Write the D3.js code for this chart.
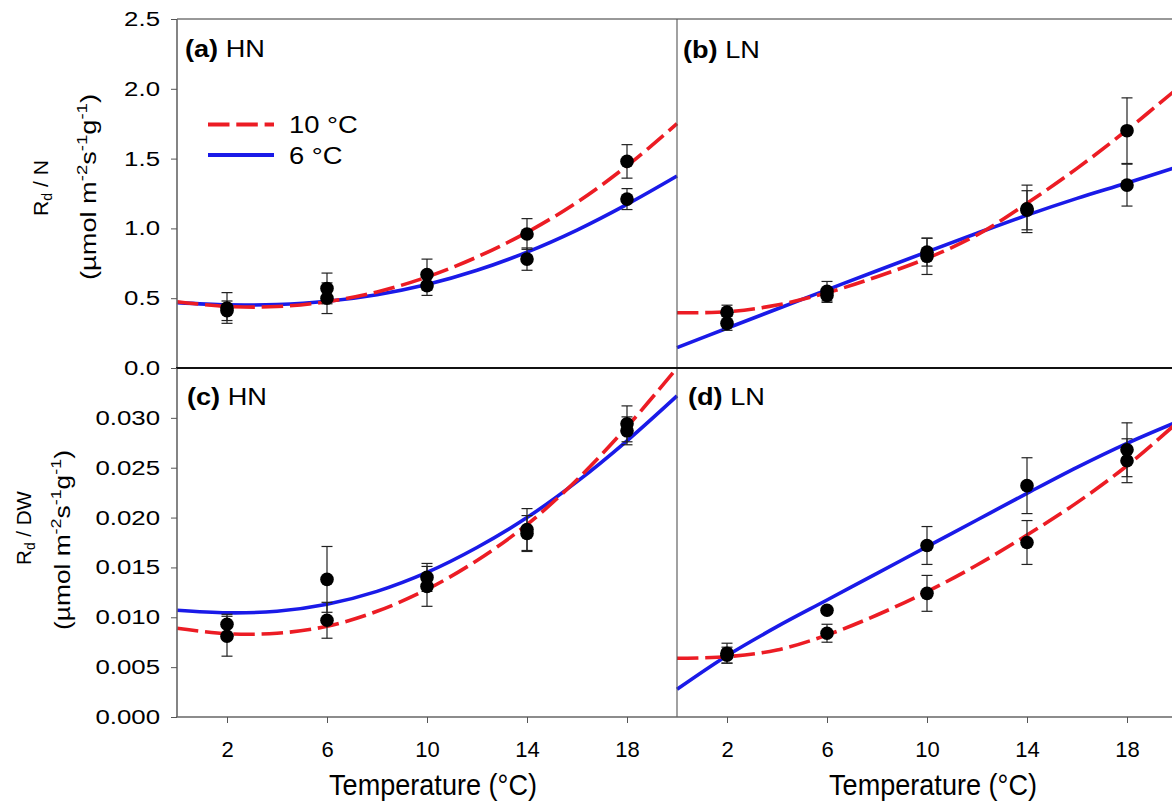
<!DOCTYPE html>
<html>
<head>
<meta charset="utf-8">
<script src="https://cdn.jsdelivr.net/npm/d3@7"></script>
<style>
  body { margin: 0; background: #fff; }
  svg { display: block; }
  text { font-family: 'Liberation Sans', Arial, sans-serif; fill: #000; }
</style>
</head>
<body>
<svg id="chart" width="1172" height="809"></svg>
<script>
// Growth temperatures where respiration was measured
const temps = [2, 6, 10, 14, 18];
// Temperatures at which the fitted curves are tabulated
const fitT = [0, 2, 4, 6, 8, 10, 12, 14, 16, 18, 20];

// (a) HN, Rd per N
const aMean10 = [0.43, 0.57, 0.67, 0.96, 1.48];
const aErr10  = [0.11, 0.11, 0.11, 0.11, 0.12];
const aMean6  = [0.41, 0.50, 0.59, 0.78, 1.21];
const aErr6   = [0.07, 0.11, 0.07, 0.08, 0.075];
const aFit10  = [0.475, 0.441, 0.440, 0.475, 0.545, 0.652, 0.795, 0.972, 1.187, 1.448, 1.75];
const aFit6   = [0.468, 0.452, 0.455, 0.478, 0.525, 0.598, 0.700, 0.830, 0.988, 1.172, 1.375];

// (b) LN, Rd per N
const bMean10 = [0.40, 0.52, 0.80, 1.14, 1.70];
const bErr10  = [0.05, 0.05, 0.13, 0.17, 0.235];
const bMean6  = [0.32, 0.55, 0.83, 1.13, 1.31];
const bErr6   = [0.05, 0.07, 0.10, 0.14, 0.15];
const bFit10  = [0.396, 0.403, 0.451, 0.539, 0.654, 0.786, 0.953, 1.180, 1.430, 1.705, 2.00];
const bFit6   = [0.146, 0.285, 0.423, 0.560, 0.697, 0.832, 0.965, 1.095, 1.215, 1.325, 1.44];

// (c) HN, Rd per DW
const cMean10 = [0.0081, 0.0097, 0.0131, 0.0188, 0.0294];
const cErr10  = [0.0020, 0.0018, 0.0020, 0.0021, 0.0018];
const cMean6  = [0.0093, 0.0138, 0.0140, 0.0184, 0.0287];
const cErr6   = [0.0010, 0.0033, 0.0014, 0.0018, 0.0014];
const cFit10  = [0.0089, 0.00835, 0.0084, 0.0091, 0.0106, 0.0128, 0.0157, 0.0193, 0.0238, 0.0291, 0.0350];
const cFit6   = [0.0107, 0.01045, 0.0106, 0.0113, 0.0126, 0.0145, 0.0170, 0.0200, 0.0236, 0.0277, 0.0322];

// (d) LN, Rd per DW
const dMean10 = [0.0062, 0.0084, 0.0124, 0.0175, 0.0257];
const dErr10  = [0.0008, 0.0009, 0.0018, 0.0022, 0.0022];
const dMean6  = [0.0064, 0.0107, 0.0172, 0.0232, 0.0268];
const dErr6   = [0.0010, 0.0003, 0.0019, 0.0028, 0.0027];
const dFit10  = [0.00589, 0.00605, 0.00672, 0.00822, 0.01023, 0.01257, 0.01524, 0.01825, 0.02150, 0.0252, 0.0295];
const dFit6   = [0.00278, 0.00615, 0.00906, 0.01173, 0.01441, 0.01708, 0.01976, 0.02243, 0.02504, 0.02745, 0.0296];

// Axis ticks
const yTicksN  = [0, 0.5, 1.0, 1.5, 2.0, 2.5];
const yTicksDW = [0, 0.005, 0.010, 0.015, 0.020, 0.025, 0.030];

const legendLabels = ["10 °C", "6 °C"];
const RED = "#ec1c24", BLUE = "#1a1ae8";
const DASH = "21.5,6.8";

const panels = [
  { tag: "(a)", name: "HN", col: 0, row: 0, m10: aMean10, e10: aErr10, m6: aMean6, e6: aErr6, f10: aFit10, f6: aFit6, lx: 8, ly: 38 },
  { tag: "(b)", name: "LN", col: 1, row: 0, m10: bMean10, e10: bErr10, m6: bMean6, e6: bErr6, f10: bFit10, f6: bFit6, lx: 6, ly: 39 },
  { tag: "(c)", name: "HN", col: 0, row: 1, m10: cMean10, e10: cErr10, m6: cMean6, e6: cErr6, f10: cFit10, f6: cFit6, lx: 10, ly: 37 },
  { tag: "(d)", name: "LN", col: 1, row: 1, m10: dMean10, e10: dErr10, m6: dMean6, e6: dErr6, f10: dFit10, f6: dFit6, lx: 11, ly: 37 }
];

const svg = d3.select("#chart");

const colX = [177, 677];
const panelW = 500;
const rowY = [19, 368];
const panelH = 349;

const xScales = colX.map(x0 => d3.scaleLinear().domain([0, 20]).range([x0, x0 + panelW]));
const yScales = [
  d3.scaleLinear().domain([0, 2.5]).range([rowY[0] + panelH, rowY[0]]),
  d3.scaleLinear().domain([0, 0.035]).range([rowY[1] + panelH, rowY[1]])
];

// Place a text at (x, y), rotated by rot, and stretched along its run to a given length
function fitText(sel, x, y, rot, len) {
  const w = sel.node().getComputedTextLength();
  const s = len ? len / w : 1;
  sel.attr("transform", `translate(${x},${y}) rotate(${rot}) scale(${s},1)`);
}

// Curves, error bars and points
panels.forEach(p => {
  const x = xScales[p.col], y = yScales[p.row];
  const g = svg.append("g");
  const line = d3.line().x(d => x(d[0])).y(d => y(d[1])).curve(d3.curveCatmullRom.alpha(0.5));

  g.append("path").datum(fitT.map((t, i) => [t, p.f6[i]]))
    .attr("d", line).attr("fill", "none").attr("stroke", BLUE).attr("stroke-width", 3.6);
  g.append("path").datum(fitT.map((t, i) => [t, p.f10[i]]))
    .attr("d", line).attr("fill", "none").attr("stroke", RED).attr("stroke-width", 3.6)
    .attr("stroke-dasharray", DASH);

  const pts = [];
  temps.forEach((t, i) => {
    pts.push({ t, v: p.m10[i], e: p.e10[i] });
    pts.push({ t, v: p.m6[i], e: p.e6[i] });
  });
  const eb = g.append("g").attr("stroke", "#222").attr("stroke-width", 1.2);
  pts.forEach(d => {
    const cx = x(d.t);
    eb.append("line").attr("x1", cx).attr("x2", cx).attr("y1", y(d.v - d.e)).attr("y2", y(d.v + d.e));
    [d.v - d.e, d.v + d.e].forEach(vv => {
      eb.append("line").attr("x1", cx - 5.5).attr("x2", cx + 5.5).attr("y1", y(vv)).attr("y2", y(vv));
    });
  });
  g.selectAll("circle").data(pts).join("circle")
    .attr("cx", d => x(d.t)).attr("cy", d => y(d.v)).attr("r", 6.8).attr("fill", "#000");

  // panel tag
  const lbl = g.append("text").attr("font-size", 23);
  lbl.append("tspan").attr("font-weight", "bold").text(p.tag);
  lbl.append("tspan").text(" " + p.name);
  lbl.attr("transform", `translate(${x(0) + p.lx},${rowY[p.row] + p.ly}) scale(1.18,1)`);
});

// Frame lines
const frame = svg.append("g").attr("fill", "none");
frame.append("line").attr("x1", 177).attr("x2", 1177).attr("y1", 19).attr("y2", 19).attr("stroke", "#333").attr("stroke-width", 1);
frame.append("line").attr("x1", 177).attr("x2", 177).attr("y1", 19).attr("y2", 717).attr("stroke", "#666").attr("stroke-width", 1.6);
frame.append("line").attr("x1", 677).attr("x2", 677).attr("y1", 19).attr("y2", 717).attr("stroke", "#555").attr("stroke-width", 1.1);
frame.append("line").attr("x1", 176).attr("x2", 1177).attr("y1", 368).attr("y2", 368).attr("stroke", "#111").attr("stroke-width", 2);
frame.append("line").attr("x1", 176).attr("x2", 1177).attr("y1", 717).attr("y2", 717).attr("stroke", "#666").attr("stroke-width", 1.6);

// Y axes
const yAxN = d3.axisLeft(yScales[0]).tickValues(yTicksN).tickFormat(d3.format(".1f")).tickSize(6);
const yAxDW = d3.axisLeft(yScales[1]).tickValues(yTicksDW).tickFormat(d3.format(".3f")).tickSize(6);
[yAxN, yAxDW].forEach(ax => {
  const g = svg.append("g").attr("transform", "translate(177,0)").call(ax);
  g.select(".domain").remove();
  g.selectAll("line").attr("stroke", "#555");
  g.selectAll("text").attr("font-size", 20.5).attr("font-family", "'Liberation Sans', Arial, sans-serif")
    .attr("fill", "#000").attr("x", 0).attr("transform", "translate(-17,0) scale(1.26,1)");
});

// X axes (bottom row)
xScales.forEach(xs => {
  const g = svg.append("g").attr("transform", "translate(0,717)")
    .call(d3.axisBottom(xs).tickValues(temps).tickSize(6).tickPadding(18));
  g.select(".domain").remove();
  g.selectAll("line").attr("stroke", "#555");
  g.selectAll("text").attr("font-size", 22).attr("font-family", "'Liberation Sans', Arial, sans-serif").attr("fill", "#000");
  const t = svg.append("text").attr("text-anchor", "middle").attr("font-size", 29).text("Temperature (°C)");
  fitText(t, (xs.range()[0] + xs.range()[1]) / 2 + 6, 795, 0, 208);
});

// Y axis titles
function yTitle(x1, y1, len1, x2, y2, len2, quantity) {
  const t1 = svg.append("text").attr("text-anchor", "middle").attr("font-size", 21);
  t1.append("tspan").text("R");
  t1.append("tspan").attr("font-size", 14).attr("dy", 4).text("d");
  t1.append("tspan").attr("dy", -4).text(" / " + quantity);
  fitText(t1, x1, y1, -90, len1);

  const t2 = svg.append("text").attr("text-anchor", "middle").attr("font-size", 22);
  t2.append("tspan").text("(µmol m");
  t2.append("tspan").attr("font-size", 15).attr("dy", -9).text("-2");
  t2.append("tspan").attr("dy", 9).text("s");
  t2.append("tspan").attr("font-size", 15).attr("dy", -9).text("-1");
  t2.append("tspan").attr("dy", 9).text("g");
  t2.append("tspan").attr("font-size", 15).attr("dy", -9).text("-1");
  t2.append("tspan").attr("dy", 9).text(")");
  fitText(t2, x2, y2, -90, len2);
}
yTitle(48, 188, 56, 96, 187, 186, "N");
yTitle(31, 528, 74, 70, 540, 180, "DW");

// Legend in panel (a)
const leg = svg.append("g");
[[RED, DASH, 124.5, 133.3], [BLUE, null, 155, 164]].forEach((s, i) => {
  const ln = leg.append("line").attr("x1", 208).attr("x2", 274).attr("y1", s[2]).attr("y2", s[2])
    .attr("stroke", s[0]).attr("stroke-width", 3.8);
  if (s[1]) ln.attr("stroke-dasharray", s[1]);
  leg.append("text").attr("font-size", 24).text(legendLabels[i])
    .attr("transform", `translate(289,${s[3]}) scale(1.14,1)`);
});
</script>
</body>
</html>
